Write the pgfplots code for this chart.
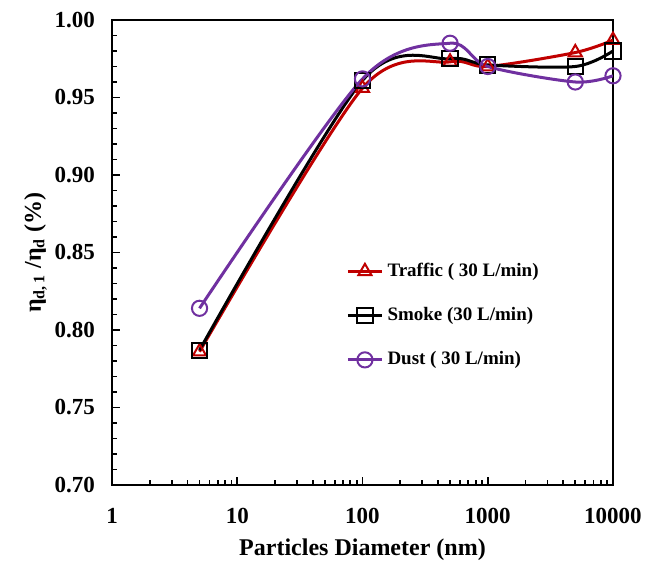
\documentclass[border=0pt]{standalone}
\usepackage{fontspec}
\setmainfont{Liberation Serif}
\usepackage{pgfplots}
\pgfplotsset{compat=1.18}
\usetikzlibrary{calc}
\definecolor{trafred}{HTML}{C00000}
\definecolor{dustpurple}{HTML}{7030A0}

\begin{document}
\begin{tikzpicture}
\begin{axis}[
  scale only axis, width=250.5pt, height=232.5pt,
  xmode=log, xmin=1, xmax=10000,
  ymin=0.70, ymax=1.00,
  xtick={1,10,100,1000,10000}, xticklabels={1,10,100,1000,10000},
  ytick={0.70,0.75,...,1.001}, minor y tick num=4,
  yticklabel style={/pgf/number format/fixed, /pgf/number format/fixed zerofill,
    /pgf/number format/precision=2, xshift=-5pt},
  /pgf/number format/assume math mode=true,
  ticklabel style={font=\bfseries\fontsize{11.5}{13}\selectfont},
  xticklabel style={yshift=-8pt},
  tick pos=left, tick align=inside,
  major tick length=4pt, minor tick length=2.5pt,
  axis line style={line width=1.2pt}, tick style={line width=0.9pt, black},
  xlabel={\bfseries\fontsize{12}{14}\selectfont Particles Diameter (nm)},
  ylabel={\bfseries\fontsize{12}{14}\selectfont η\textsubscript{d,\,1} /η\textsubscript{d} (\%)},
  xlabel style={yshift=-1pt}, ylabel style={yshift=-3pt},
  legend style={draw=none, fill=none, at={(0.455,0.495)}, anchor=north west,
    font=\bfseries\fontsize{9.5}{11}\selectfont, row sep=10pt},
  legend cell align=left,
  every axis plot/.append style={line width=1.5pt, smooth, tension=0.5,
    mark size=3.8pt, mark options={solid, fill=none, line width=1pt}},
]
\addplot[trafred, mark=triangle] coordinates {
  (5,0.786) (100,0.956) (500,0.973) (1000,0.970) (5000,0.979) (10000,0.987)};
\addlegendentry{Traffic ( 30 L/min)}
\addplot[black, mark=square] coordinates {
  (5,0.787) (100,0.961) (500,0.975) (1000,0.971) (5000,0.970) (10000,0.980)};
\addlegendentry{Smoke (30 L/min)}
\addplot[dustpurple, mark=o] coordinates {
  (5,0.814) (100,0.962) (500,0.985) (1000,0.970) (5000,0.960) (10000,0.964)};
\addlegendentry{Dust ( 30 L/min)}
\end{axis}
\pgfresetboundingbox
\useasboundingbox ($(current axis.south west)+(-56pt,-40pt)$) rectangle ($(current axis.north east)+(22pt,10pt)$);
\end{tikzpicture}
\end{document}
